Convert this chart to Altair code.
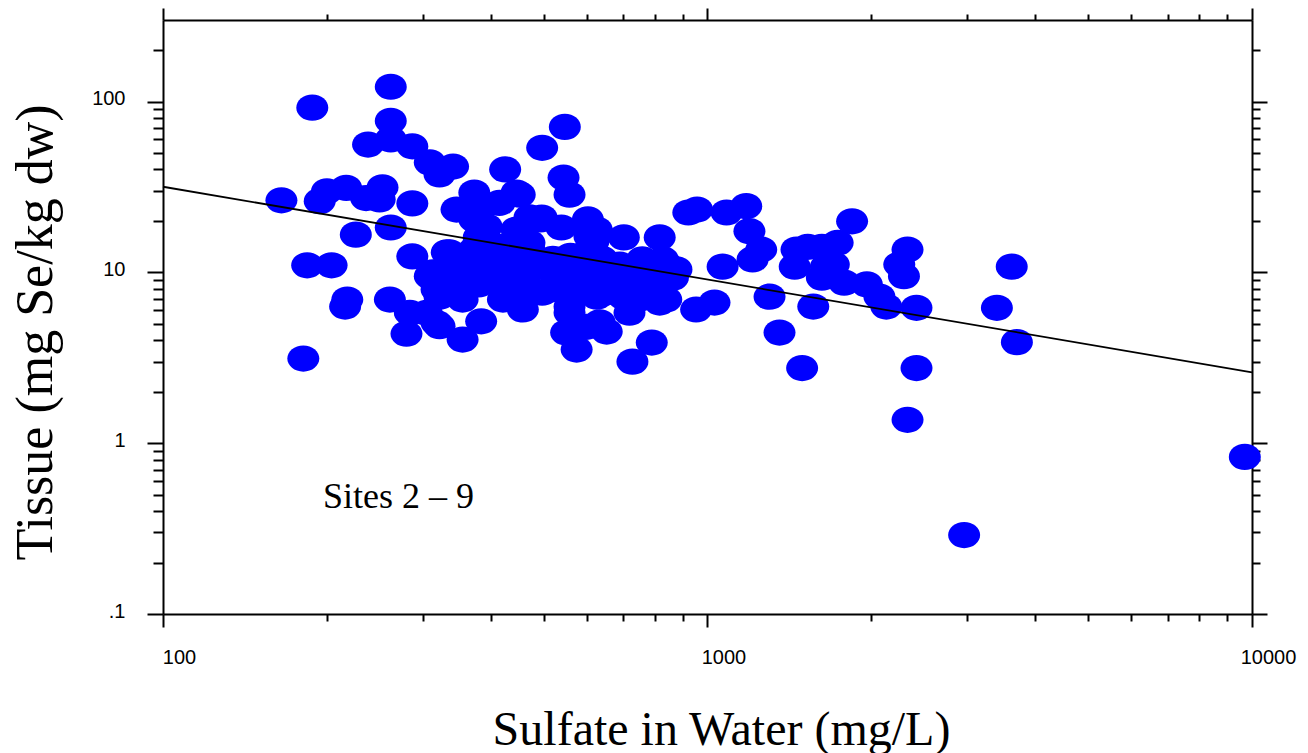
import altair as alt
import pandas as pd

# ---- data ----
sulfate = [
    165, 188, 262, 262, 238, 262, 287, 309, 322, 341, 425, 194, 200, 217, 236, 253, 250, 287,
    226, 262, 346, 373, 386, 184, 204, 287, 336, 218, 216, 261, 280, 318, 355, 384, 181, 313,
    284, 322,
    497, 547, 544, 558, 446, 415, 471, 452, 496, 603, 626, 539, 617, 702, 817, 373, 393, 446, 332,
    415, 471, 373, 421, 471, 497, 309, 346, 382, 433, 471, 497, 322, 355, 421, 458, 318, 305,
    684, 783, 840, 864, 953, 1030, 790, 728, 575, 550, 653, 634, 817, 719, 607, 494, 840, 626,
    558, 877, 828, 759, 690, 640, 582, 531, 492, 462, 513, 589, 690, 817, 770, 558, 600,
    393, 410, 360, 400, 440, 520, 560, 600, 640, 560, 640, 700, 740, 750, 420, 380, 350, 450,
    380, 330,
    922, 957, 1084, 1178, 1194, 1255, 1210, 1066, 1300, 1356, 1492, 1564, 1457, 1528, 1734,
    1843, 1622, 1446, 1650, 1706, 1622, 1782, 1962, 2069, 2130, 2420, 2330, 2250, 2295, 2420,
    3620, 3400, 3700, 2330, 2960, 9700,
]
tissue = [
    26.4, 92, 122, 77, 56, 60, 54.7, 44, 37.4, 41.6, 40, 26.1, 29.8, 31.2, 27.2, 31.4, 26.7, 25.3,
    16.6, 18.3, 23.3, 29.3, 24.3, 11, 11, 12.4, 13.1, 6.93, 6.3, 6.93, 4.37, 7.93, 4.04, 5.17, 3.13, 10,
    5.8, 4.84,
    53.6, 71, 35.9, 28.5, 29.3, 25.5, 21, 28.5, 20.9, 20.4, 17.8, 18.3, 15.1, 16, 16, 20.4, 18.5, 17.8, 13.1,
    14.1, 14.9, 13.6, 14.1, 13.6, 11.4, 9.5, 10.4, 10, 9.5, 7.9, 7.6, 7.2, 6.93, 6.93, 6.06, 5.05, 5.8,
    10.8, 11.1, 11.1, 9.3, 6.06, 6.65, 3.88, 3.0, 3.53, 4.44, 4.5, 5.1, 6.65, 5.8, 16.2, 20.4, 6.93, 7.2,
    6.3, 10.4, 11.9, 11.9, 11.1, 9.5, 10, 9.5, 10.8, 8.7, 7.9, 8.3, 8.3, 7.6, 9.1, 5.8, 4.8,
    12, 11, 11.5, 9, 10.5, 12, 12.5, 13, 12, 8.5, 7.5, 7.2, 9.5, 7, 8.2, 8.5, 8.5, 12,
    16, 10.5,
    22.4, 23.3, 22.4, 24.4, 17.4, 13.6, 11.9, 10.8, 7.2, 4.44, 2.75, 6.3, 13.6, 14.1, 14.9,
    19.9, 14.1, 10.8, 10.8, 11.1, 9.3, 8.7, 8.5, 7.2, 6.3, 6.2, 13.6, 11.1, 9.5, 2.75,
    10.8, 6.2, 3.9, 1.37, 0.29, 0.83,
]
fit_sulfate = [100, 10000]
fit_tissue = [31.7, 2.6]
x_ticks = [100, 200, 300, 400, 500, 600, 700, 800, 900,
           1000, 2000, 3000, 4000, 5000, 6000, 7000, 8000, 9000, 10000]
y_ticks = [0.1, 0.2, 0.3, 0.4, 0.5, 0.6, 0.7, 0.8, 0.9,
           1, 2, 3, 4, 5, 6, 7, 8, 9,
           10, 20, 30, 40, 50, 60, 70, 80, 90,
           100, 200]
annotation = ["Sites 2 \u2013 9"]

df = pd.DataFrame({"sulfate": sulfate, "tissue": tissue})
fit_df = pd.DataFrame({"sulfate": fit_sulfate, "tissue": fit_tissue})
ann_df = pd.DataFrame({"label": annotation})

X_MAJOR = "(datum.value == 100 || datum.value == 1000 || datum.value == 10000)"
Y_MAJOR = "(datum.value == 0.1 || datum.value == 1 || datum.value == 10 || datum.value == 100)"

xscale = alt.Scale(type="log", domain=[100, 10000], nice=False)
yscale = alt.Scale(type="log", domain=[0.1, 300], nice=False)

common = dict(grid=False, domainColor="black", domainWidth=2, tickColor="black",
              tickWidth=2, labelOverlap=False, labelFlush=False, labelBound=False)

x_bottom = alt.Axis(
    orient="bottom", values=x_ticks,
    tickSize={"condition": {"test": X_MAJOR, "value": 13}, "value": 7},
    labelExpr=X_MAJOR + " ? format(datum.value, 'd') : ''",
    labelFont="Liberation Sans", labelFontSize=20, labelColor="black",
    labelPadding=20, labelOffset=16,
    title="Sulfate in Water (mg/L)", titleFont="Liberation Serif", titleFontSize=48,
    titleFontWeight="normal", titleColor="black", titleX=558, titleY=130,
    titleBaseline="alphabetic", titleAlign="center", **common)

y_left = alt.Axis(
    orient="left", values=y_ticks,
    tickSize={"condition": {"test": Y_MAJOR, "value": 16}, "value": 10},
    labelExpr=Y_MAJOR + " ? (datum.value < 1 ? '.1' : format(datum.value, 'd')) : ''",
    labelFont="Liberation Sans", labelFontSize=20, labelColor="black",
    labelPadding=22, labelOffset=-3,
    title="Tissue (mg Se/kg dw)", titleFont="Liberation Serif", titleFontSize=52,
    titleFontWeight="normal", titleColor="black", titleX=-128, titleY=312,
    titleAngle=270, titleBaseline="middle", titleAlign="center", **common)

x_top = alt.Axis(
    orient="top", values=x_ticks, labels=False, title=None,
    tickSize={"condition": {"test": X_MAJOR, "value": 12}, "value": 6}, **common)

y_right = alt.Axis(
    orient="right", values=y_ticks, labels=False, title=None,
    tickSize={"condition": {"test": Y_MAJOR, "value": 15}, "value": 8}, **common)

ELLIPSE = ("M -1 0 C -1 -0.453 -0.552 -0.82 0 -0.82 C 0.552 -0.82 1 -0.453 1 0 "
           "C 1 0.453 0.552 0.82 0 0.82 C -0.552 0.82 -1 0.453 -1 0 Z")

points = alt.Chart(df).mark_point(
    shape=ELLIPSE, filled=True, size=1024, color="#0000ff", opacity=1, strokeWidth=0
).encode(
    x=alt.X("sulfate:Q", scale=xscale, axis=x_bottom),
    y=alt.Y("tissue:Q", scale=yscale, axis=y_left),
)

fit = alt.Chart(fit_df).mark_line(color="black", strokeWidth=1.8).encode(
    x=alt.X("sulfate:Q", scale=xscale, axis=x_top),
    y=alt.Y("tissue:Q", scale=yscale, axis=y_right),
)

label = alt.Chart(ann_df).mark_text(
    font="Liberation Serif", fontSize=36, align="left", baseline="alphabetic", color="black"
).encode(
    text="label:N", x=alt.value(160), y=alt.value(488)
)

chart = alt.layer(points, fit, label).resolve_axis(
    x="independent", y="independent"
).properties(
    width=1089, height=594,
    padding={"left": 163, "top": 20, "right": 56, "bottom": 139},
    autosize="none",
).configure_view(strokeWidth=0).configure(background="white")

chart.save("out.html", embed_options={"renderer": "svg", "actions": False})
